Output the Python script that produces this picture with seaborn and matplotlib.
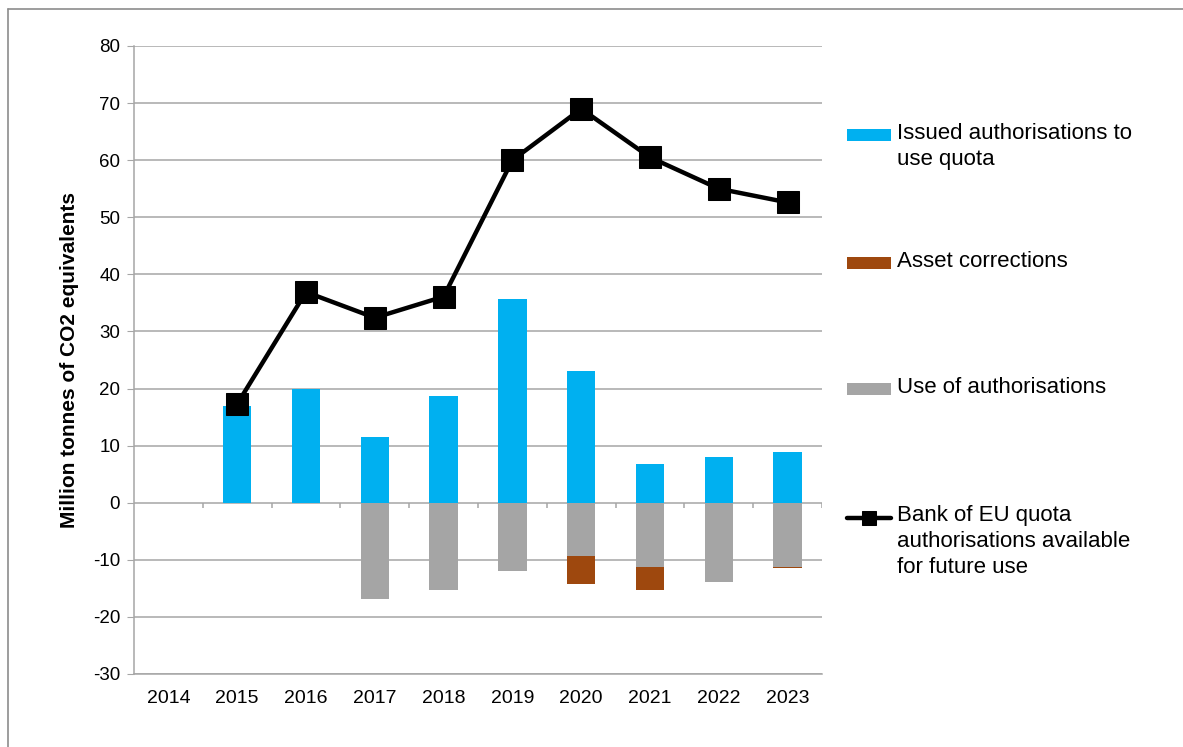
import numpy as np
import pandas as pd
import matplotlib
matplotlib.use("Agg")
import matplotlib.pyplot as plt
import seaborn as sns
from matplotlib.lines import Line2D

years = ["2014", "2015", "2016", "2017", "2018", "2019", "2020", "2021", "2022", "2023"]
issued = [0, 17.0, 20.0, 11.6, 18.7, 35.6, 23.0, 6.7, 8.0, 8.8]
use_of_auth = [0, 0, 0, -16.9, -15.2, -11.9, -9.4, -11.2, -13.9, -11.3]
asset_corr = [0, 0, 0, 0, 0, 0, -4.8, -4.0, 0, -0.2]
bank = [None, 17.3, 36.9, 32.4, 36.1, 60.0, 69.0, 60.5, 55.0, 52.6]

labels = ["Issued authorisations to\nuse quota",
          "Asset corrections",
          "Use of authorisations",
          "Bank of EU quota\nauthorisations available\nfor future use"]

BLUE = "#00B0F0"
BROWN = "#9E480E"
GREY = "#A5A5A5"
GRID = "#A6A6A6"

df = pd.DataFrame({"year": years, "issued": issued, "use": use_of_auth,
                   "asset": asset_corr, "bank": bank})
df["pos"] = np.arange(len(df))
df["neg_total"] = df.use + df.asset

sns.set_style("white")
plt.rcParams["font.family"] = ["Liberation Sans", "DejaVu Sans"]
plt.rcParams["axes.unicode_minus"] = False
plt.rcParams["text.color"] = "black"
plt.rcParams["axes.labelcolor"] = "black"
plt.rcParams["xtick.labelcolor"] = "black"
plt.rcParams["ytick.labelcolor"] = "black"

fig, ax = plt.subplots(figsize=(11.83, 7.47), dpi=100)
fig.subplots_adjust(left=134 / 1183, right=822 / 1183, top=1 - 46 / 747, bottom=1 - 674 / 747)

bar_kw = dict(saturation=1, width=0.41, linewidth=0, ax=ax, zorder=2)
sns.barplot(data=df, x="year", y="issued", color=BLUE, label=labels[0], **bar_kw)
sns.barplot(data=df, x="year", y="neg_total", color=BROWN, label=labels[1], **bar_kw)
sns.barplot(data=df, x="year", y="use", color=GREY, label=labels[2], **bar_kw)
line_df = df.dropna(subset=["bank"])
sns.lineplot(data=line_df, x="pos", y="bank", color="black", lw=3.2, marker="s",
             markersize=16, markeredgecolor="black", label=labels[3], ax=ax, zorder=3)

ax.set_xlim(-0.5, len(years) - 0.5)
ax.set_ylim(-30, 80)
ax.set_yticks(range(-30, 81, 10))
ax.set_xlabel("")
ax.set_ylabel("Million tonnes of CO2 equivalents", fontsize=15, fontweight="bold",
              family=["Liberation Sans Narrow", "Liberation Sans"], labelpad=10)
ax.yaxis.grid(True, color=GRID, lw=1.1, zorder=0)
ax.set_axisbelow(True)
for s in ["top", "right"]:
    ax.spines[s].set_visible(False)
for s in ["left", "bottom"]:
    ax.spines[s].set_color(GRID)
    ax.spines[s].set_linewidth(1.1)
ax.tick_params(axis="y", left=True, length=5, color=GRID, labelsize=13.5, pad=5)
ax.tick_params(axis="x", bottom=False, labelsize=14, pad=8)

# category boundary ticks on the zero line (Excel style)
bounds = np.arange(len(years) + 1) - 0.5
ax.vlines(bounds[1:], -0.9, 0, color=GRID, lw=1.1, zorder=1)

# legend entries spread down the right side, handle level with first text line
handles, labs = ax.get_legend_handles_labels()
hmap = dict(zip(labs, handles))
if ax.get_legend():
    ax.get_legend().remove()
legend_tops = [123, 251, 377, 505]
shift = 4.5  # points
for lab, top in zip(labels, legend_tops):
    leg = fig.legend([hmap[lab]], [lab], loc="upper left",
                     bbox_to_anchor=(847 / 1183, 1 - top / 747),
                     frameon=False, fontsize=16, handlelength=2.0, handleheight=0.45,
                     handletextpad=0.27, borderpad=0, borderaxespad=0, markerscale=0.6)
    for t in leg.get_texts():
        t.set_linespacing(1.32)
    for col in leg._legend_handle_box.get_children():
        for item in col.get_children():
            item.align = "top"
    for h in leg.legend_handles:
        if isinstance(h, Line2D):
            h.set_ydata(np.asarray(h.get_ydata()) - shift)
        else:
            h.set_y(h.get_y() - shift)

# chart area border (left and top only)
fig.add_artist(Line2D([8 / 1183, 8 / 1183], [0, 1 - 9 / 747], color="#8C8C8C", lw=1.2))
fig.add_artist(Line2D([8 / 1183, 1], [1 - 9 / 747, 1 - 9 / 747], color="#8C8C8C", lw=1.2))

plt.savefig("out.png", dpi=100)
